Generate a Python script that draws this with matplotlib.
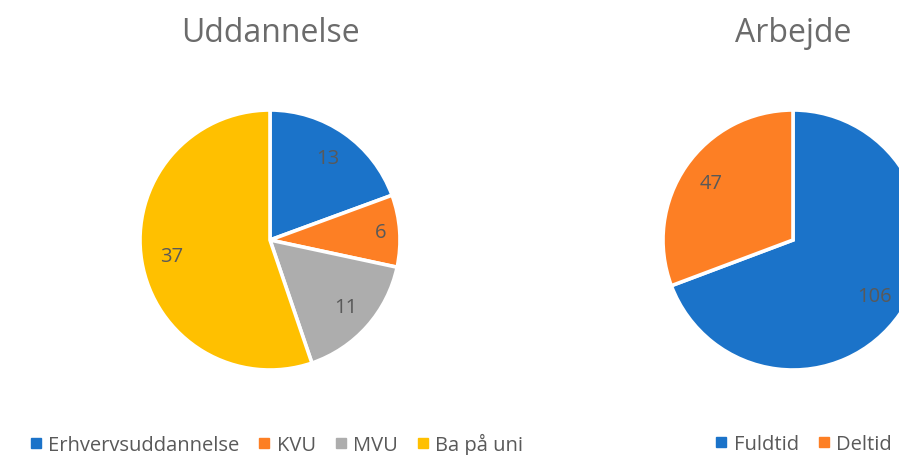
import matplotlib
matplotlib.use("Agg")
import matplotlib.pyplot as plt
import numpy as np

plt.rcParams['font.family'] = ['Open Sans', 'DejaVu Sans']

edu_labels = ["Erhvervsuddannelse", "KVU", "MVU", "Ba på uni"]
edu_values = [13, 6, 11, 37]
edu_colors = ["#1B73C9", "#FD7F24", "#ADADAD", "#FFC000"]

job_labels = ["Fuldtid", "Deltid"]
job_values = [106, 47]
job_colors = ["#1B73C9", "#FD7F24"]

W, H = 899, 456
fig = plt.figure(figsize=(W / 100, H / 100), dpi=100)
text_col = "#595959"
title_col = "#6B6B6B"


def draw_pie(cx, title, values, labels, colors, leg_cx, dists):
    r = 130
    ax = fig.add_axes([(cx - r) / W, (H - 241 - r) / H, 2 * r / W, 2 * r / H])
    wedges, _ = ax.pie(values, colors=colors, startangle=90, counterclock=False,
                       radius=1.0, wedgeprops=dict(edgecolor="white", linewidth=2.6))
    ax.set_xlim(-1, 1)
    ax.set_ylim(-1, 1)
    ax.set_aspect("equal")
    ax.axis("off")
    for w, v, d in zip(wedges, values, dists):
        ang = np.deg2rad((w.theta1 + w.theta2) / 2)
        ax.text(d * np.cos(ang), d * np.sin(ang), str(v), ha="center", va="center",
                fontsize=14.5, color=text_col)
    fig.text(cx / W, 1 - 33 / H, title, ha="center", va="center", fontsize=23, color=title_col)
    handles = [plt.Line2D([], [], marker="s", linestyle="none", markersize=7.5,
                          markerfacecolor=c, markeredgecolor=c) for c in colors]
    fig.legend(handles, labels, loc="center", bbox_to_anchor=(leg_cx / W, 1 - 445 / H),
               ncol=len(labels), frameon=False, fontsize=14.5, handlelength=0.7,
               handletextpad=0.25, columnspacing=0.9, labelcolor=text_col)


draw_pie(270, "Uddannelse", edu_values, edu_labels, edu_colors, 276, [0.77, 0.85, 0.78, 0.77])
draw_pie(793, "Arbejde", job_values, job_labels, job_colors, 803, [0.76, 0.77])

fig.savefig("out.png", dpi=100)
